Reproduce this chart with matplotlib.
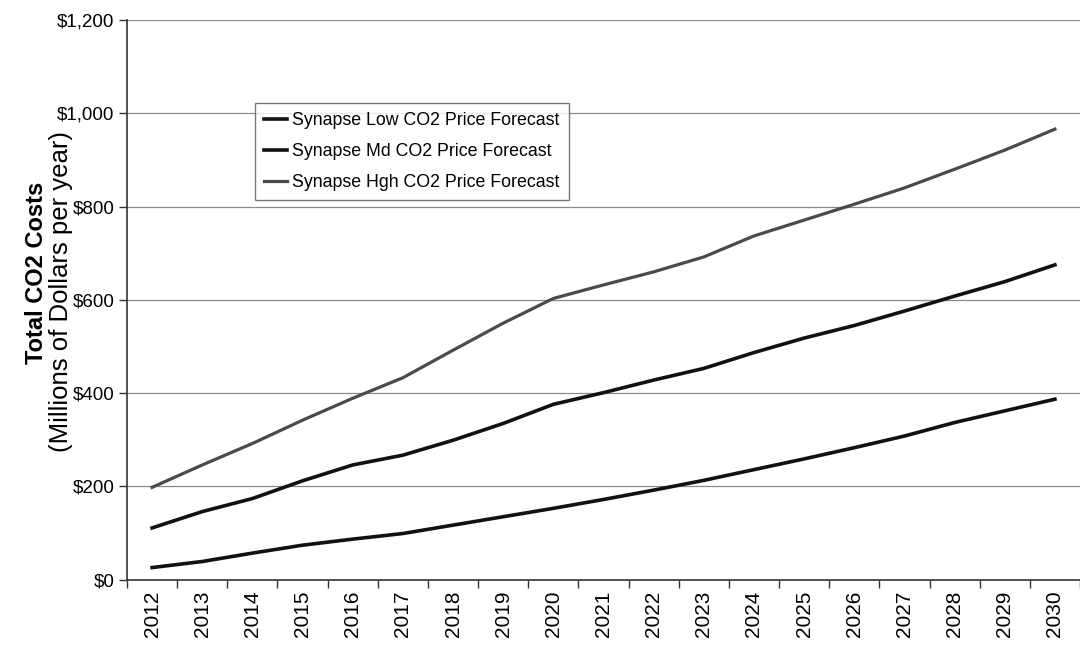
import matplotlib
matplotlib.use('Agg')
import matplotlib.pyplot as plt
import numpy as np

years = [str(y) for y in range(2012, 2031)]

low = [26, 39, 57, 74, 87, 99, 117, 135, 153, 172, 192, 213, 236, 259, 283, 308, 337, 362, 387]
mid = [111, 146, 174, 212, 246, 267, 299, 335, 376, 401, 428, 453, 487, 518, 545, 576, 608, 639, 675]
high = [198, 246, 292, 342, 389, 433, 492, 550, 603, 632, 660, 692, 737, 771, 805, 840, 880, 921, 966]

series_names = ["Synapse Low CO2 Price Forecast",
                "Synapse Md CO2 Price Forecast",
                "Synapse Hgh CO2 Price Forecast"]

yticks = [0, 200, 400, 600, 800, 1000, 1200]
ytick_labels = ["$0", "$200", "$400", "$600", "$800", "$1,000", "$1,200"]

plt.rcParams['font.family'] = ['Liberation Sans', 'DejaVu Sans']

fig = plt.figure(figsize=(10.8, 6.5), dpi=100)
ax = fig.add_axes([127 / 1080, 1 - 579.7 / 650, 953 / 1080, 559.7 / 650])

x = np.arange(len(years))
ax.plot(x, low, color='#111111', lw=2.6, solid_joinstyle='round', label=series_names[0])
ax.plot(x, mid, color='#111111', lw=2.6, solid_joinstyle='round', label=series_names[1])
ax.plot(x, high, color='#4a4a4a', lw=2.3, solid_joinstyle='round', label=series_names[2])

ax.set_xlim(-0.5, 18.42)
ax.set_ylim(0, 1200)

# category axis: ticks between categories, labels at the centres
ax.set_xticks(np.arange(-0.5, len(years), 1.0))
ax.set_xticklabels([])
ax.set_xticks(x, minor=True)
ax.set_xticklabels(years, minor=True, rotation=90, fontsize=15)
ax.tick_params(axis='x', which='major', direction='out', length=6, width=1, color='#333333')
ax.tick_params(axis='x', which='minor', length=0, pad=8)

ax.set_yticks(yticks)
ax.set_yticklabels(ytick_labels, fontsize=13.5)
ax.tick_params(axis='y', direction='out', length=6, width=1, color='#333333', pad=3)

ax.yaxis.grid(True, color='#8a8a8a', lw=0.9)
ax.set_axisbelow(True)

for side in ['top', 'right']:
    ax.spines[side].set_visible(False)
for side in ['left', 'bottom']:
    ax.spines[side].set_color('#333333')
    ax.spines[side].set_linewidth(1.2)

fig.text(37 / 1080, 1 - 273 / 650, "Total CO2 Costs", rotation=90, ha='center', va='center',
         fontsize=17, fontweight='bold')
fig.text(61 / 1080, 1 - 292 / 650, "(Millions of Dollars per year)", rotation=90, ha='center', va='center',
         fontsize=18.5)

leg = ax.legend(loc='upper left', bbox_to_anchor=((255 - 127) / 953, (579.7 - 103) / 559.7),
                fontsize=12.8, frameon=True, fancybox=False, handlelength=1.3,
                handletextpad=0.3, borderpad=0.5, labelspacing=0.8, borderaxespad=0)
leg.get_frame().set_edgecolor('#555555')
leg.get_frame().set_linewidth(1.0)

fig.savefig("out.png", dpi=100)
